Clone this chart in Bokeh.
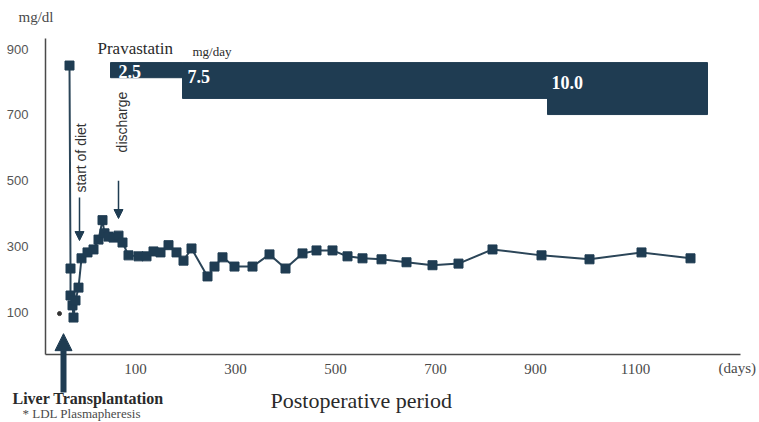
import math
from bokeh.plotting import figure
from bokeh.models import (Range1d, LinearAxis, FixedTicker, Label, Arrow, NormalHead,
                          ColumnDataSource)
from bokeh.embed import file_html
from bokeh.resources import INLINE

# ---- data ----
days = [-32, -30, -30, -26, -24, -20, -14, -8, 4, 16, 26, 34, 38, 46, 56, 66, 74, 86,
        106, 122, 136, 150, 166, 182, 196, 212, 244, 258, 274, 298, 334, 368, 400, 434,
        462, 494, 524, 554, 592, 642, 694, 746, 814, 912, 1008, 1112, 1210]
ldl = [850, 233, 151, 121, 84, 136, 175, 264, 282, 291, 321, 380, 340, 330, 327, 333,
       312, 273, 270, 270, 285, 282, 304, 282, 257, 294, 209, 239, 267, 239, 239, 276,
       233, 279, 288, 288, 270, 264, 261, 252, 243, 248, 291, 273, 261, 282, 264]

x_ticks = [100, 300, 500, 700, 900, 1100]
y_ticks = [100, 300, 500, 700, 900]

dose_labels = ["2.5", "7.5", "10.0"]
dose_start = [50, 194, 924]
dose_end = [194, 924, 1244]
dose_top = [859, 859, 859]
dose_bottom = [813, 750, 701]

plasmapheresis_day = [-52]
plasmapheresis_val = [96]

transplant_day = -44
diet_day = -12
discharge_day = 66

DARK = "#1f3c52"
TXT = "#2a2a2a"
GRAY = "#4a4a4a"

p = figure(width=759, height=422, output_backend="svg", toolbar_location=None,
           x_range=Range1d(-170, 1348), y_range=Range1d(-235.0, 1047.7),
           x_axis_location=None, y_axis_location=None, min_border=0,
           outline_line_color=None, background_fill_color="white",
           border_fill_color="white")
p.grid.visible = False

# axes drawn at fixed locations
xa = LinearAxis(fixed_location=-28.3, bounds=(-80, 1310), ticker=FixedTicker(ticks=x_ticks))
xa.major_tick_line_color = None
xa.minor_tick_line_color = None
xa.axis_line_color = GRAY
xa.axis_line_width = 1.5
xa.major_label_standoff = 4
xa.major_label_text_font = "Liberation Serif"
xa.major_label_text_font_size = "15px"
xa.major_label_text_color = GRAY
p.add_layout(xa, "below")

ya = LinearAxis(fixed_location=-80, bounds=(-28.3, 932), ticker=FixedTicker(ticks=y_ticks))
ya.major_tick_line_color = None
ya.minor_tick_line_color = None
ya.axis_line_color = GRAY
ya.axis_line_width = 1.5
ya.major_label_standoff = 11
ya.major_label_text_font = "Liberation Sans"
ya.major_label_text_font_size = "13px"
ya.major_label_text_color = "#555555"
p.add_layout(ya, "left")

# dose bars
bars = ColumnDataSource(dict(left=dose_start, right=dose_end, top=dose_top, bottom=dose_bottom))
p.quad(left="left", right="right", top="top", bottom="bottom", source=bars,
       fill_color=DARK, line_color=DARK)

dose_pos = [(66, 832), (204, 818), (932, 799)]
for lab_text, (xx, yy) in zip(dose_labels, dose_pos):
    p.add_layout(Label(x=xx, y=yy, text=lab_text, text_color="white", text_font="Liberation Serif",
                       text_font_style="bold", text_font_size="18px",
                       text_baseline="middle", text_align="left"))

# data
src = ColumnDataSource(dict(x=days, y=ldl))
p.line("x", "y", source=src, line_color="#2b4558", line_width=2)
p.scatter("x", "y", source=src, marker="square", size=9, fill_color=DARK, line_color=DARK)
p.scatter(plasmapheresis_day, plasmapheresis_val, marker="circle", size=4,
          fill_color="#333333", line_color="#333333")

# arrows
p.add_layout(Arrow(end=NormalHead(size=17, fill_color=DARK, line_color=DARK),
                   x_start=transplant_day, y_start=-144, x_end=transplant_day, y_end=35,
                   line_color=DARK, line_width=6))
p.add_layout(Arrow(end=NormalHead(size=9, fill_color=DARK, line_color=DARK),
                   x_start=diet_day, y_start=449, x_end=diet_day, y_end=318,
                   line_color=DARK, line_width=1.5))
p.add_layout(Arrow(end=NormalHead(size=9, fill_color=DARK, line_color=DARK),
                   x_start=discharge_day, y_start=500, x_end=discharge_day, y_end=385,
                   line_color=DARK, line_width=1.5))

def lab(x, y, text, size, font="Liberation Serif", style="normal", color=TXT, angle=0.0):
    p.add_layout(Label(x=x, y=y, text=text, text_font=font, text_font_size=size,
                       text_font_style=style, text_color=color, angle=angle,
                       text_align="left", text_baseline="middle"))

lab(-134, 999, "mg/dl", "15px", color=GRAY)
lab(24, 902, "Pravastatin", "17px")
lab(214, 893, "mg/day", "13px")
lab(1266, -68, "(days)", "15px", color=GRAY)
lab(-146, -162, "Liver Transplantation", "16px", style="bold")
lab(-126, -207, "* LDL Plasmapheresis", "13px", color=GRAY)
lab(370, -168.5, "Postoperative period", "22px")
lab(-10, 464, "start of diet", "14px", font="Liberation Sans", color="#333333", angle=math.pi / 2)
lab(72, 586, "discharge", "14px", font="Liberation Sans", color="#333333", angle=math.pi / 2)

open("out.html", "w").write(file_html(p, INLINE))
